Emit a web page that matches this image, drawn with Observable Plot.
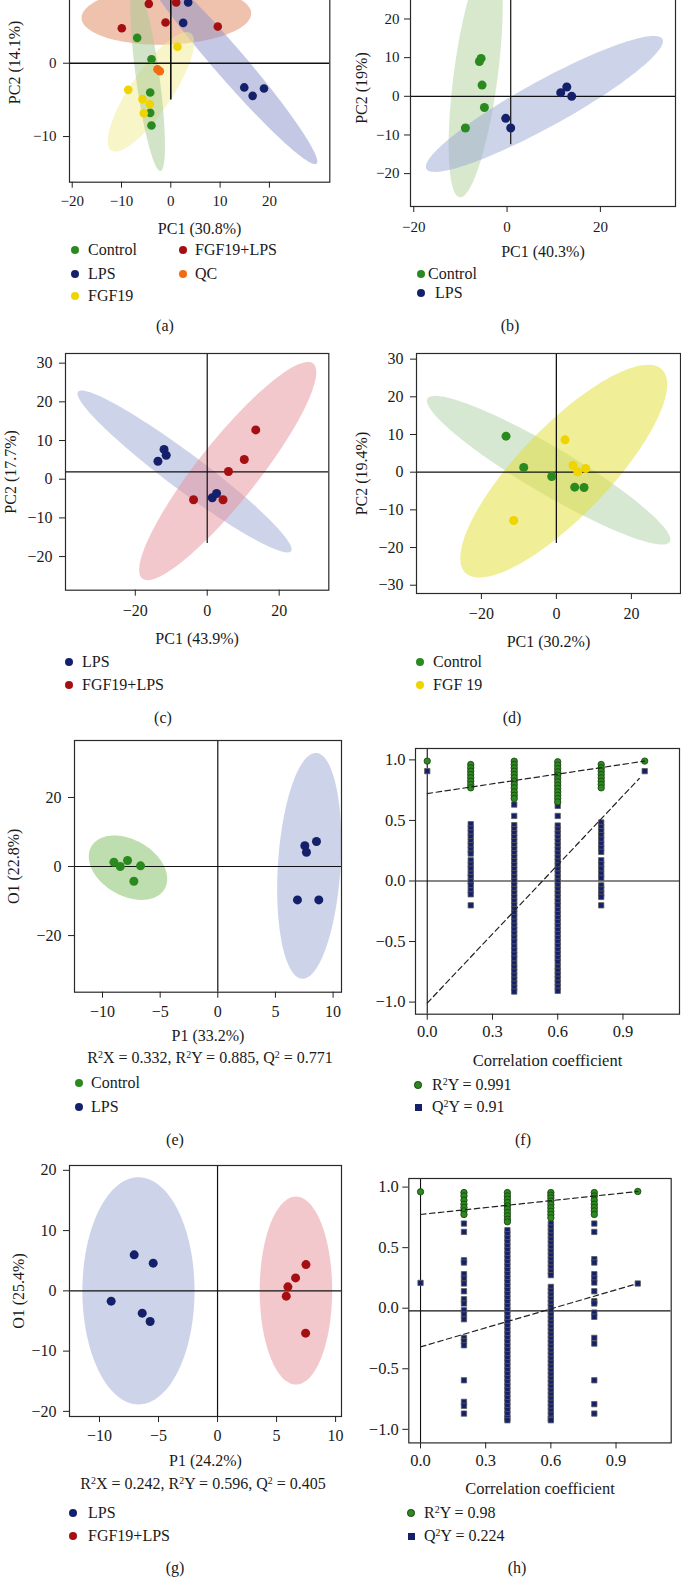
<!DOCTYPE html>
<html><head><meta charset="utf-8">
<script src="https://cdn.jsdelivr.net/npm/d3@7"></script>
<script src="https://cdn.jsdelivr.net/npm/@observablehq/plot@0.6"></script>
<style>
body{margin:0;background:#fff;}
#page{position:relative;width:681px;height:1577px;overflow:hidden;background:#fff;font-family:"Liberation Serif","Times New Roman",serif;color:#1a1a1a;}
.box{position:absolute;}
.lg{position:absolute;font-size:16px;line-height:16px;white-space:nowrap;}
.mk{position:absolute;box-sizing:border-box;}
.cap{position:absolute;font-size:16px;line-height:16px;white-space:nowrap;transform:translate(-50%,-50%);}
sup{font-size:0.62em;vertical-align:0.5em;line-height:0;}
</style></head><body><div id="page"></div>
<script>
const C = {green:"#2b8a1f", navy:"#15206b", yellow:"#f0d400", red:"#a50f11", orange:"#f26b10"};

// ---------- (a) PCA scores [PC1, PC2]
const aControl   = [[-6.82,3.46],[-3.92,0.55],[-4.18,-4.0],[-4.18,-6.77],[-3.92,-8.5]];
const aLPS       = [[3.52,8.3],[2.51,5.5],[14.9,-3.3],[16.6,-4.45],[18.9,-3.45]];
const aFGF19     = [[1.36,2.24],[-8.64,-3.63],[-5.74,-4.9],[-4.26,-5.59],[-5.48,-6.82]];
const aFGF19LPS  = [[-4.46,8.1],[1.09,8.3],[-1.07,5.55],[-9.94,4.78],[9.53,5.0]];
const aQC        = [[-2.7,-0.82],[-2.23,-1.09]];
// confidence ellipses: center, semi-axis 1, semi-axis 2 (data units)
const aEllipses = [
  {group:"FGF19+LPS", c:[-0.9,6.5], M:[17.2,0.3], N:[0,3.96]},
  {group:"LPS", c:[11.36,0.5], M:[18.2,-14.2], N:[2.38,1.38]},
  {group:"FGF19", c:[-4.04,-3.9], M:[8.05,8.0], N:[3.47,-1.58]},
  {group:"Control", c:[-4.69,-1.9], M:[2.6,-12.8], N:[2.35,0.22]}
];
const aCross = {h:0, v:0, vy1:-5.0, vy2:20};

// ---------- (b)
const bControl = [[-5.57,9.8],[-5.93,9.0],[-5.36,2.9],[-4.86,-2.9],[-8.93,-8.2]];
const bLPS     = [[-0.29,-5.7],[0.78,-8.2],[11.5,0.95],[12.8,2.4],[13.85,0]];
const bEllipses = [
  {group:"Control", c:[-6.73,5.35], M:[-3.43,-31.47], N:[4.67,-0.74]},
  {group:"LPS", c:[8.0,-1.97], M:[25.3,16.8], N:[2.38,-5.2]}
];
const bCross = {h:0, v:0.78, vy1:-12.5, vy2:40};

// ---------- (c)
const cLPS       = [[-13.7,4.65],[-12.0,7.7],[-11.4,6.2],[1.4,-4.8],[2.6,-3.7]];
const cFGF19LPS  = [[13.5,12.75],[10.3,5.1],[5.9,2.0],[-3.8,-5.3],[4.4,-5.3]];
const cEllipses = [
  {group:"LPS", c:[-6.3,2.0], M:[29.6,-20.6], N:[3.0,3.73]},
  {group:"FGF19+LPS", c:[5.7,2.1], M:[23.75,27.8], N:[6.5,-4.83]}
];
const cCross = {h:1.9, v:0, vy1:-16.6, vy2:40};

// ---------- (d)
const dControl = [[-13.42,9.56],[-8.71,1.24],[-1.24,-1.15],[4.89,-3.98],[7.38,-4.07]];
const dFGF19   = [[2.31,8.58],[4.44,1.77],[5.69,0.09],[7.82,0.97],[-11.38,-12.83]];
const dEllipses = [
  {group:"Control", c:[-2.05,0.53], M:[32.3,-19.0], N:[3.17,5.32]},
  {group:"FGF 19", c:[1.96,0.27], M:[26.2,27.0], N:[8.63,-8.3]}
];
const dCross = {h:0, v:0, vy1:-18.9, vy2:40};

// ---------- (e) OPLS-DA scores [P1, O1]
const eControl = [[-9.01,1.25],[-8.46,0],[-7.83,1.74],[-6.7,0.19],[-7.28,-4.25]];
const eLPS     = [[7.55,6.0],[7.69,4.15],[8.56,7.25],[6.91,-9.66],[8.76,-9.66]];
const eEllipses = [
  {group:"Control", c:[-7.79,-0.34], M:[3.18,-6.14], N:[-1.21,-7.02]},
  {group:"LPS", c:[7.93,0.2], M:[0.62,32.7], N:[2.71,-0.58]}
];
const eCross = {h:0, v:0};

// ---------- (g)
const gLPS      = [[-7.06,5.97],[-5.45,4.59],[-9.01,-1.71],[-6.38,-3.70],[-5.71,-5.08]];
const gFGF19LPS = [[7.49,4.36],[6.61,2.15],[5.96,0.66],[5.82,-0.88],[7.46,-7.02]];
const gEllipses = [
  {group:"LPS", c:[-6.7,0], M:[0,18.85], N:[4.75,0]},
  {group:"FGF19+LPS", c:[6.64,0.05], M:[0,15.6], N:[3.07,0]}
];
const gCross = {h:0, v:0};

// ---------- (f) permutation test: correlation levels and values
const permLevels = [0, 0.2, 0.4, 0.6, 0.8, 1.0];
const fR2Y = [
  [0.99],
  [0.962,0.934,0.907,0.879,0.852,0.824,0.797,0.769],
  [0.989,0.962,0.934,0.907,0.879,0.852,0.824,0.797,0.769,0.736,0.708,0.681],
  [0.984,0.956,0.928,0.901,0.874,0.846,0.819,0.791,0.764,0.736,0.708,0.681,0.653],
  [0.962,0.934,0.907,0.879,0.852,0.824,0.797,0.769],
  [0.99]
];
const fQ2Y = [
  [0.907],
  [0.469,0.433,0.400,0.365,0.328,0.295,0.259,0.226,0.171,0.135,0.102,0.061,0.033,-0.003,-0.036,-0.077,-0.110,-0.201],
  [0.631,0.537,0.461,0.428,0.395,0.362,0.329,0.296,0.263,0.230,0.197,0.164,0.131,0.098,0.065,0.032,-0.001,-0.034,-0.067,-0.100,-0.133,-0.166,-0.199,-0.232,-0.265,-0.298,-0.336,-0.369,-0.402,-0.435,-0.468,-0.501,-0.541,-0.574,-0.607,-0.640,-0.682,-0.715,-0.748,-0.781,-0.814,-0.847,-0.880,-0.913],
  [0.620,0.537,0.458,0.425,0.392,0.359,0.326,0.293,0.260,0.227,0.194,0.161,0.128,0.095,0.062,0.029,-0.004,-0.037,-0.070,-0.103,-0.136,-0.169,-0.202,-0.240,-0.273,-0.306,-0.339,-0.372,-0.405,-0.438,-0.471,-0.504,-0.537,-0.570,-0.603,-0.636,-0.669,-0.709,-0.742,-0.775,-0.808,-0.841,-0.874,-0.907],
  [0.483,0.446,0.411,0.378,0.342,0.306,0.273,0.240,0.171,0.138,0.102,0.061,0.025,-0.036,-0.069,-0.104,-0.132,-0.201],
  [0.907]
];
const fR2Yfit = [[0,0.722],[1.0,0.99]];
const fQ2Yfit = [[0,-1.008],[0.975,0.846]];

// ---------- (h)
const hR2Y = [
  [0.961],
  [0.955,0.927,0.892,0.859,0.832,0.804,0.774],
  [0.955,0.927,0.900,0.873,0.845,0.818,0.790,0.763,0.735,0.713],
  [0.955,0.933,0.911,0.884,0.856,0.829,0.801,0.774,0.746],
  [0.955,0.927,0.892,0.859,0.832,0.804,0.774],
  [0.964]
];
const hQ2Y = [
  [0.209],
  [0.699,0.630,0.396,0.377,0.281,0.245,0.204,0.140,0.074,0.039,-0.017,-0.052,-0.091,-0.245,-0.273,-0.306,-0.595,-0.773,-0.806,-0.870],
  [0.644,0.611,0.578,0.545,0.512,0.479,0.446,0.413,0.380,0.347,0.314,0.281,0.248,0.215,0.182,0.149,0.116,0.083,0.050,0.017,-0.016,-0.049,-0.082,-0.115,-0.148,-0.181,-0.214,-0.247,-0.280,-0.313,-0.346,-0.379,-0.412,-0.445,-0.478,-0.511,-0.544,-0.577,-0.610,-0.643,-0.676,-0.709,-0.742,-0.775,-0.808,-0.841,-0.874,-0.907,-0.925],
  [0.699,0.666,0.633,0.600,0.567,0.534,0.501,0.468,0.435,0.402,0.369,0.336,0.303,0.273,0.176,0.143,0.110,0.077,0.044,0.011,-0.022,-0.055,-0.088,-0.121,-0.154,-0.187,-0.220,-0.253,-0.286,-0.319,-0.352,-0.385,-0.418,-0.451,-0.484,-0.517,-0.550,-0.583,-0.616,-0.649,-0.682,-0.715,-0.748,-0.781,-0.814,-0.847,-0.880,-0.913,-0.925],
  [0.699,0.630,0.405,0.377,0.281,0.245,0.212,0.140,0.058,0.039,-0.036,-0.071,-0.245,-0.292,-0.595,-0.792,-0.870],
  [0.204]
];
const hR2Yfit = [[0,0.774],[1.0,0.964]];
const hQ2Yfit = [[0,-0.319],[1.0,0.204]];

// ---------------- drawing helpers
const page = document.getElementById("page");
const FONT = '"Liberation Serif","Times New Roman",serif';

function ellipsePts(e, n = 144) {
  const pts = [];
  for (let i = 0; i < n; i++) {
    const t = 2 * Math.PI * i / n, c = Math.cos(t), s = Math.sin(t);
    pts.push({x: e.c[0] + c * e.M[0] + s * e.N[0], y: e.c[1] + c * e.M[1] + s * e.N[1]});
  }
  return pts;
}

function sizeText(svg, fs, lfs) {
  svg.querySelectorAll("text").forEach(t => {
    let g = t.parentNode, lab = "";
    while (g && g !== svg) { const a = g.getAttribute && g.getAttribute("aria-label"); if (a) { lab = a; break; } g = g.parentNode; }
    const isTick = /tick/.test(lab);
    t.style.setProperty("font-size", (isTick ? fs : lfs) + "px", "important");
    t.style.setProperty("font-family", FONT, "important");
  });
}

function place(svg, left, top, fs, lfs) {
  const d = document.createElement("div");
  d.className = "box";
  d.style.left = left + "px"; d.style.top = top + "px";
  d.appendChild(svg);
  page.appendChild(d);
  sizeText(svg, fs, lfs);
}

function axisMarks(cfg) {
  const out = [
    Plot.axisX({ticks: cfg.xt, tickSize: 6, tickPadding: cfg.tpx, tickFormat: cfg.fmt, label: null,
      fontSize: cfg.fs, fill: "#1a1a1a", stroke: "#222"}),
    Plot.axisX({ticks: [], tickSize: 0, label: cfg.xl, labelAnchor: "center", labelOffset: cfg.xlo,
      labelArrow: false, fontSize: cfg.lfs, fill: "#1a1a1a"}),
    Plot.axisY({ticks: cfg.yt, tickSize: 6, tickPadding: cfg.tpy, tickFormat: cfg.fmt,
      label: null, fontSize: cfg.fs, fill: "#1a1a1a", stroke: "#222"})
  ];
  if (cfg.yl) out.push(Plot.axisY({ticks: [], tickSize: 0, label: cfg.yl, labelAnchor: "center", labelOffset: cfg.ylo,
      labelArrow: false, fontSize: cfg.lfs, fill: "#1a1a1a"}));
  return out;
}

function plotOpts(cfg) {
  return {
    width: cfg.w, height: cfg.h,
    marginLeft: cfg.mL, marginRight: cfg.mR, marginTop: cfg.mT, marginBottom: cfg.mB,
    style: {fontFamily: FONT, fontSize: cfg.fs + "px", background: "transparent", overflow: "visible", color: "#1a1a1a"},
    x: {domain: cfg.xd}, y: {domain: cfg.yd}
  };
}

function scorePlot(cfg) {
  const marks = [];
  cfg.ellipses.forEach(e => marks.push(Plot.line(ellipsePts(e), {
    x: "x", y: "y", curve: "linear-closed", fill: cfg.fills[e.group], fillOpacity: 0.5, stroke: "none", clip: true})));
  marks.push(Plot.ruleY([cfg.cross], {y: "h", stroke: "#111", strokeWidth: cfg.lw, clip: true}));
  if (cfg.cross.vy1 !== undefined)
    marks.push(Plot.ruleX([cfg.cross], {x: "v", y1: "vy1", y2: "vy2", stroke: "#111", strokeWidth: cfg.lw, clip: true}));
  else
    marks.push(Plot.ruleX([cfg.cross], {x: "v", stroke: "#111", strokeWidth: cfg.lw, clip: true}));
  cfg.groups.forEach(g => marks.push(Plot.dot(g.data, {x: d => d[0], y: d => d[1], r: cfg.r, fill: g.color, stroke: "none"})));
  marks.push(Plot.frame({stroke: "#2a2a2a", strokeWidth: 1.2}));
  marks.push(...axisMarks(cfg));
  place(Plot.plot({...plotOpts(cfg), marks}), cfg.left, cfg.top, cfg.fs, cfg.lfs);
}

function flat(levels, cols) {
  const out = [];
  cols.forEach((vals, i) => vals.forEach(v => out.push({x: levels[i], y: v})));
  return out;
}

function permPlot(cfg) {
  const marks = [
    Plot.ruleY([cfg.hline], {stroke: "#111", strokeWidth: 1.1, clip: true}),
    Plot.ruleX([0], {stroke: "#111", strokeWidth: 1.1, clip: true}),
    Plot.dot(flat(permLevels, cfg.q2), {x: "x", y: "y", symbol: "square", r: 3.0, fill: C.navy, stroke: "#5a5a5a", strokeWidth: 0.8}),
    Plot.dot(flat(permLevels, cfg.r2), {x: "x", y: "y", r: 3.2, fill: C.green, stroke: "#1c3d12", strokeWidth: 0.8}),
    Plot.line(cfg.r2fit, {x: d => d[0], y: d => d[1], stroke: "#222", strokeWidth: 1.2, strokeDasharray: "5.5,3.5"}),
    Plot.line(cfg.q2fit, {x: d => d[0], y: d => d[1], stroke: "#222", strokeWidth: 1.2, strokeDasharray: "5.5,3.5"}),
    Plot.frame({stroke: "#2a2a2a", strokeWidth: 1.2}),
    ...axisMarks(cfg)
  ];
  place(Plot.plot({...plotOpts(cfg), marks}), cfg.left, cfg.top, cfg.fs, cfg.lfs);
}

function legend(items) {
  items.forEach(it => {
    const m = document.createElement("div");
    m.className = "mk";
    const s = it.size || 8.6;
    m.style.width = s + "px"; m.style.height = s + "px";
    m.style.left = (it.x - s / 2) + "px"; m.style.top = (it.y - s / 2) + "px";
    m.style.background = it.color;
    if (it.shape !== "square") m.style.borderRadius = "50%";
    if (it.border) m.style.border = "1px solid " + it.border;
    page.appendChild(m);
    const t = document.createElement("div");
    t.className = "lg";
    t.style.left = it.tx + "px"; t.style.top = (it.y - 8) + "px";
    t.innerHTML = it.label;
    page.appendChild(t);
  });
}
function caption(text, x, y, size) {
  const d = document.createElement("div");
  d.className = "cap";
  d.style.left = x + "px"; d.style.top = y + "px";
  if (size) d.style.fontSize = size + "px";
  d.innerHTML = text;
  page.appendChild(d);
}

// ---------------- (a)
scorePlot({left: 0, top: -70, w: 341, h: 310, mL: 69, mR: 11.7, mT: 12, mB: 58.3, fs: 15, lfs: 16,
  xd: [-20.55, 32.25], yd: [-16.23, 16.47], xt: [-20, -10, 0, 10, 20], yt: [-10, 0],
  tpx: 7, tpy: 7, xl: "PC1 (30.8%)", yl: "PC2 (14.1%)", xlo: 52, ylo: 61,
  ellipses: aEllipses, fills: {"FGF19+LPS": "#df855d", "LPS": "#8991c9", "FGF19": "#f1eb91", "Control": "#a3c991"},
  cross: aCross, lw: 1.6, r: 4.3,
  groups: [{data: aControl, color: C.green}, {data: aLPS, color: C.navy}, {data: aFGF19, color: C.yellow},
           {data: aFGF19LPS, color: C.red}, {data: aQC, color: C.orange}]});
legend([
  {x: 75, y: 250, tx: 88, label: "Control", color: C.green},
  {x: 75, y: 274, tx: 88, label: "LPS", color: C.navy},
  {x: 75, y: 296, tx: 88, label: "FGF19", color: C.yellow},
  {x: 183, y: 250, tx: 195, label: "FGF19+LPS", color: C.red},
  {x: 183, y: 274, tx: 195, label: "QC", color: C.orange}
]);
caption("(a)", 165, 326);

// ---------------- (b)
scorePlot({left: 340, top: -43, w: 341, h: 303, mL: 70, mR: 6, mT: 12, mB: 54, fs: 15, lfs: 16,
  xd: [-20.7, 36.1], yd: [-28.5, 32.8], xt: [-20, 0, 20], yt: [-20, -10, 0, 10, 20],
  tpx: 9, tpy: 5, xl: "PC1 (40.3%)", yl: "PC2 (19%)", xlo: 50, ylo: 55,
  ellipses: bEllipses, fills: {"Control": "#afd19b", "LPS": "#9ba7d3"},
  cross: bCross, lw: 1.2, r: 4.5,
  groups: [{data: bControl, color: C.green}, {data: bLPS, color: C.navy}]});
legend([
  {x: 421, y: 274, tx: 428, label: "Control", color: C.green},
  {x: 421, y: 293, tx: 435, label: "LPS", color: C.navy}
]);
caption("(b)", 510, 326);

// ---------------- (c)
scorePlot({left: 0, top: 341.3, w: 341, h: 310, mL: 65, mR: 12.7, mT: 12, mB: 61.3, fs: 16, lfs: 16,
  xd: [-39.4, 33.8], yd: [-28.7, 32.5], xt: [-20, 0, 20], yt: [-20, -10, 0, 10, 20, 30],
  tpx: 8, tpy: 7, xl: "PC1 (43.9%)", yl: "PC2 (17.7%)", xlo: 54, ylo: 61,
  ellipses: cEllipses, fills: {"LPS": "#9ba7d3", "FGF19+LPS": "#e7919b"},
  cross: cCross, lw: 1.2, r: 4.5,
  groups: [{data: cLPS, color: C.navy}, {data: cFGF19LPS, color: C.red}]});
legend([
  {x: 69, y: 662, tx: 82, label: "LPS", color: C.navy},
  {x: 69, y: 685, tx: 82, label: "FGF19+LPS", color: C.red}
]);
caption("(c)", 163, 718);

// ---------------- (d)
scorePlot({left: 340, top: 341.3, w: 341, h: 312, mL: 76, mR: 1, mT: 12, mB: 60, fs: 16, lfs: 16,
  xd: [-37.3, 33.1], yd: [-32.2, 31.5], xt: [-20, 0, 20], yt: [-30, -20, -10, 0, 10, 20, 30],
  tpx: 8, tpy: 7, xl: "PC1 (30.2%)", yl: "PC2 (19.4%)", xlo: 53.5, ylo: 61,
  ellipses: dEllipses, fills: {"Control": "#afd1a5", "FGF 19": "#e1dd2d"},
  cross: dCross, lw: 1.3, r: 4.5,
  groups: [{data: dControl, color: C.green}, {data: dFGF19, color: C.yellow}]});
legend([
  {x: 420, y: 662, tx: 433, label: "Control", color: C.green},
  {x: 420, y: 685, tx: 433, label: "FGF 19", color: C.yellow}
]);
caption("(d)", 512, 718);

// ---------------- (e)
scorePlot({left: 0, top: 728, w: 343, h: 320, mL: 74, mR: 2, mT: 12, mB: 56.3, fs: 16, lfs: 16,
  xd: [-12.43, 10.73], yd: [-36.4, 36.5], xt: [-10, -5, 0, 5, 10], yt: [-20, 0, 20],
  tpx: 7, tpy: 7, xl: "P1 (33.2%)", yl: "O1 (22.8%)", xlo: 49, ylo: 67,
  ellipses: eEllipses, fills: {"Control": "#7dbd5f", "LPS": "#9ba7d3"},
  cross: eCross, lw: 1.2, r: 4.5,
  groups: [{data: eControl, color: C.green}, {data: eLPS, color: C.navy}]});
caption("R<sup>2</sup>X = 0.332, R<sup>2</sup>Y = 0.885, Q<sup>2</sup> = 0.771", 210, 1058);
legend([
  {x: 79, y: 1083, tx: 91, label: "Control", color: C.green},
  {x: 79, y: 1107, tx: 91, label: "LPS", color: C.navy}
]);
caption("(e)", 175, 1140);

// ---------------- (f)
permPlot({left: 340, top: 736.3, w: 341, h: 335, mL: 75, mR: 2, mT: 12, mB: 57.3, fs: 16.5, lfs: 16.5,
  xd: [-0.054, 1.16], yd: [-1.10, 1.094], xt: [0, 0.3, 0.6, 0.9], yt: [-1, -0.5, 0, 0.5, 1],
  fmt: ".1f", tpx: 5, tpy: 4, xl: "Correlation coefficient", yl: null, xlo: 52, ylo: 60,
  hline: 0, r2: fR2Y, q2: fQ2Y, r2fit: fR2Yfit, q2fit: fQ2Yfit});
legend([
  {x: 418, y: 1085, tx: 432, label: "R<sup>2</sup>Y = 0.991", color: C.green, border: "#1c3d12", size: 7.5},
  {x: 418, y: 1107, tx: 432, label: "Q<sup>2</sup>Y = 0.91", color: C.navy, shape: "square", size: 7}
]);
caption("(f)", 523, 1140);

// ---------------- (g)
scorePlot({left: 0, top: 1153, w: 343, h: 318, mL: 69, mR: 2, mT: 12, mB: 55, fs: 16, lfs: 16,
  xd: [-12.54, 10.5], yd: [-20.85, 20.8], xt: [-10, -5, 0, 5, 10], yt: [-20, -10, 0, 10, 20],
  tpx: 7, tpy: 7, xl: "P1 (24.2%)", yl: "O1 (25.4%)", xlo: 49, ylo: 57,
  ellipses: gEllipses, fills: {"LPS": "#9ba7d3", "FGF19+LPS": "#e7919b"},
  cross: gCross, lw: 1.2, r: 4.5,
  groups: [{data: gLPS, color: C.navy}, {data: gFGF19LPS, color: C.red}]});
caption("R<sup>2</sup>X = 0.242, R<sup>2</sup>Y = 0.596, Q<sup>2</sup> = 0.405", 203, 1484);
legend([
  {x: 73, y: 1513, tx: 88, label: "LPS", color: C.navy},
  {x: 73, y: 1536, tx: 88, label: "FGF19+LPS", color: C.red}
]);
caption("(g)", 175, 1568);

// ---------------- (h)
permPlot({left: 340, top: 1166.3, w: 341, h: 335, mL: 68.3, mR: 10.3, mT: 12, mB: 58.6, fs: 16.5, lfs: 16.5,
  xd: [-0.054, 1.154], yd: [-1.112, 1.071], xt: [0, 0.3, 0.6, 0.9], yt: [-1, -0.5, 0, 0.5, 1],
  fmt: ".1f", tpx: 5, tpy: 4, xl: "Correlation coefficient", yl: null, xlo: 51.5, ylo: 60,
  hline: -0.022, r2: hR2Y, q2: hQ2Y, r2fit: hR2Yfit, q2fit: hQ2Yfit});
legend([
  {x: 411, y: 1513, tx: 424, label: "R<sup>2</sup>Y = 0.98", color: C.green, border: "#1c3d12", size: 7.5},
  {x: 411, y: 1536, tx: 424, label: "Q<sup>2</sup>Y = 0.224", color: C.navy, shape: "square", size: 7}
]);
caption("(h)", 517, 1568);
</script></body></html>
